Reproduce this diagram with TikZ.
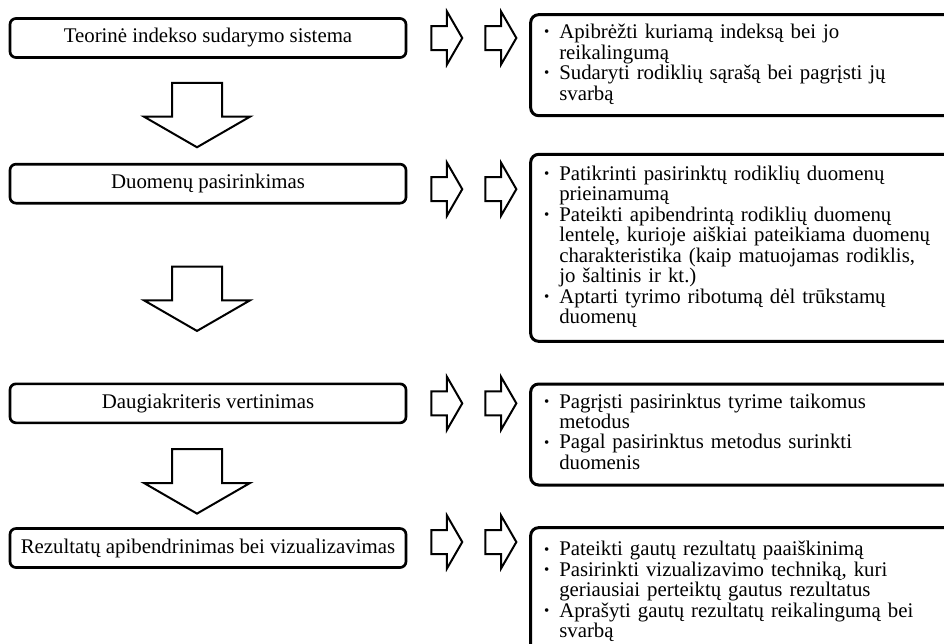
\documentclass[tikz,border=0pt]{standalone}
\usepackage{fontspec}
\setmainfont{Liberation Serif}
\usetikzlibrary{positioning, shapes.arrows}
\tikzstyle{stage} = [rectangle, rounded corners=3.6pt, line width=1.6pt, draw=black, minimum width=237.6pt, minimum height=23.4pt, text centered, inner sep=0pt]
\tikzstyle{task} = [rectangle, rounded corners=4.8pt, line width=1.8pt, draw=black, text width=244.4pt, inner xsep=8pt, inner ysep=0pt, align=left]
\tikzstyle{darrow} = [single arrow, draw=black, line width=1.2pt, shape border rotate=270, single arrow tip angle=120, single arrow head extend=16.8pt, inner sep=14.4pt, minimum height=31.8pt]
\tikzstyle{rarrow} = [single arrow, draw=black, line width=1.2pt, single arrow tip angle=120, single arrow head extend=8.7pt, inner sep=6.6pt, minimum height=13.8pt]
\newcommand{\bul}{\raisebox{.2ex}{\fontsize{9}{9}\selectfont\textbullet}}

\begin{document}
\begin{tikzpicture}[font=\fontsize{12.5}{12}\selectfont]
\clip (0,0) rectangle (566.4pt,-385.8pt);
\node(l1)[stage] at (124.8pt,-22.8pt){Teorinė indekso sudarymo sistema};
\node(l2)[stage,below=62.4pt of l1]{Duomenų pasirinkimas};
\node(l3)[stage,below=106.8pt of l2]{Daugiakriteris vertinimas};
\node(l4)[stage,below=61.8pt of l3]{Rezultatų apibendrinimas bei vizualizavimas};

\node(d1)[darrow,below=13.8pt of l1,anchor=tail,xshift=-6.6pt]{};
\node(d2)[darrow,below=36.6pt of l2,anchor=tail,xshift=-6.6pt]{};
\node(d3)[darrow,below=14.4pt of l3,anchor=tail,xshift=-6.6pt]{};

\node(a1)[rarrow,right=13.8pt of l1,anchor=tail]{};
\node(b1)[rarrow,right=12.6pt of a1.tip,anchor=tail]{};
\node(a2)[rarrow,right=13.8pt of l2,anchor=tail,yshift=-3.3pt]{};
\node(b2)[rarrow,right=12.6pt of a2.tip,anchor=tail]{};
\node(a3)[rarrow,right=13.8pt of l3,anchor=tail]{};
\node(b3)[rarrow,right=12.6pt of a3.tip,anchor=tail]{};
\node(a4)[rarrow,right=13.8pt of l4,anchor=tail,yshift=3.6pt]{};
\node(b4)[rarrow,right=12.6pt of a4.tip,anchor=tail]{};

\node(r1)[task,anchor=north west,xshift=7pt,yshift=2.4pt,minimum height=60.6pt] at (b1.tip |- l1.north){%
\begin{tabular}{@{}l@{\hspace{6pt}}l@{}}
\bul & Apibrėžti kuriamą indeksą bei jo\\
 & reikalingumą\\
\bul & Sudaryti rodiklių sąrašą bei pagrįsti jų\\
 & svarbą
\end{tabular}};
\node(r2)[task,anchor=north west,xshift=7pt,yshift=6pt,minimum height=112.2pt] at (b2.tip |- l2.north){%
\begin{tabular}{@{}l@{\hspace{6pt}}l@{}}
\bul & Patikrinti pasirinktų rodiklių duomenų\\
 & prieinamumą\\
\bul & Pateikti apibendrintą rodiklių duomenų\\
 & lentelę, kurioje aiškiai pateikiama duomenų\\
 & charakteristika (kaip matuojamas rodiklis,\\
 & jo šaltinis ir kt.)\\
\bul & Aptarti tyrimo ribotumą dėl trūkstamų\\
 & duomenų
\end{tabular}};
\node(r3)[task,anchor=north west,xshift=7pt,minimum height=60.6pt] at (b3.tip |- l3.north){%
\begin{tabular}{@{}l@{\hspace{6pt}}l@{}}
\bul & Pagrįsti pasirinktus tyrime taikomus\\
 & metodus\\
\bul & Pagal pasirinktus metodus surinkti\\
 & duomenis
\end{tabular}};
\node(r4)[task,anchor=north west,xshift=7pt,yshift=0.6pt,minimum height=78pt] at (b4.tip |- l4.north){%
\begin{tabular}{@{}l@{\hspace{6pt}}l@{}}
\bul & Pateikti gautų rezultatų paaiškinimą\\
\bul & Pasirinkti vizualizavimo techniką, kuri\\
 & geriausiai perteiktų gautus rezultatus\\
\bul & Aprašyti gautų rezultatų reikalingumą bei\\
 & svarbą
\end{tabular}};
\end{tikzpicture}
\end{document}
